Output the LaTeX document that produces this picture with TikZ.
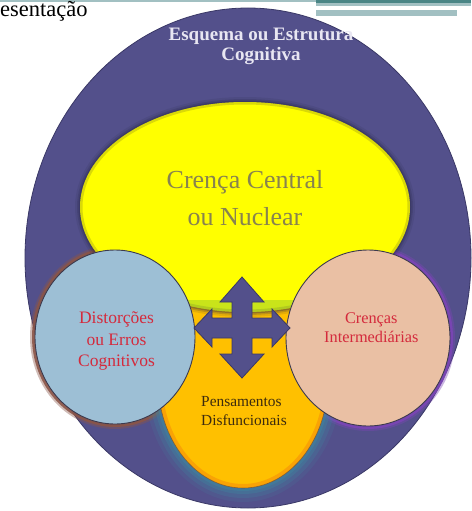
\documentclass[tikz,border=0pt]{standalone}
\usepackage{fontspec}
\setmainfont{Liberation Serif}
\usetikzlibrary{shapes.geometric}
\definecolor{bigc}{HTML}{53508B}
\definecolor{bigedge}{HTML}{3A3866}
\definecolor{yel}{HTML}{FFFF00}
\definecolor{orng}{HTML}{FFC000}
\definecolor{lblue}{HTML}{9DBFD5}
\definecolor{peach}{HTML}{EAC0A4}
\definecolor{circedge}{HTML}{3C3A4E}
\definecolor{brownglow}{HTML}{8A5548}
\definecolor{purpglow}{HTML}{7B45B5}
\definecolor{tealglow}{HTML}{3F86A0}
\definecolor{redtxt}{HTML}{D42A3C}
\definecolor{olivetxt}{HTML}{88834F}
\definecolor{esqtxt}{HTML}{E8E6F2}
\definecolor{pentxt}{HTML}{3D2B0E}
\definecolor{tealdark}{HTML}{4A8585}
\definecolor{teallight}{HTML}{A2C0C2}
\tikzset{
  blob/.style={ellipse, inner sep=0pt, outer sep=0pt},
  sidecirc/.style={blob, draw=circedge, line width=0.9pt},
  arrowshape/.style={fill=bigc, draw=bigedge, line width=0.8pt, line join=miter},
  lbl/.style={inner sep=0pt, align=center},
}
\begin{document}
\begin{tikzpicture}[x=1pt,y=-1pt]
\useasboundingbox (0,0) rectangle (471,511);
% header
\fill[teallight] (0,0) rectangle (471,2);
\fill[tealdark] (316,0) rectangle (471,3.5);
\fill[teallight] (316,3.5) rectangle (471,6.5);
\fill[teallight] (316,10) rectangle (457,16);
\node[inner sep=0pt, anchor=base west, font=\fontsize{22.5}{26}\selectfont] (title) at (0,16.5) {esentação};
% outer schema
\node[blob, draw=bigedge, line width=0.8pt, fill=bigc, minimum width=446pt, minimum height=500pt] (schema) at (248,258) {};
% glows of side circles
\fill[brownglow, opacity=0.4] (115,337) ellipse [x radius=85, y radius=92];
\fill[brownglow, opacity=0.9] (115,337) ellipse [x radius=83, y radius=90];
\fill[purpglow, opacity=0.4] (368,338) ellipse [x radius=87, y radius=93];
\fill[purpglow, opacity=0.9] (368,338) ellipse [x radius=85, y radius=91];
% orange glow
\foreach \d/\o in {14/0.15,10/0.25,6/0.35,3/0.45}
  \fill[tealglow, opacity=\o] (243,380) ellipse [x radius=85+\d, y radius=108+\d];
% orange
\node[blob, fill=orng, draw=pentxt!80, line width=0.6pt, minimum width=170pt, minimum height=216pt] (pens) at (243,380) {};
\begin{scope}
  \clip (243,380) ellipse [x radius=85, y radius=108];
  \draw[orange!80!brown, opacity=0.45, line width=8pt] (243,380) ellipse [x radius=85, y radius=108];
\end{scope}
% yellow shadow
\foreach \d/\o in {5/0.12,3/0.2,1.5/0.3}
  \fill[bigedge!70!black, opacity=\o] (245,207) ellipse [x radius=165+\d, y radius=105+\d];
% yellow
\node[blob, fill=yel, minimum width=330pt, minimum height=210pt] (central) at (245,207) {};
\begin{scope}
  \clip (245,207) ellipse [x radius=165, y radius=105];
  \draw[olive!70!black, opacity=0.25, line width=5pt] (245,207) ellipse [x radius=165, y radius=105];
  \fill[teal!60!yellow, opacity=0.35] (150,300) rectangle (340,315);
\end{scope}
% side circles
\node[sidecirc, fill=lblue, minimum width=160pt, minimum height=174pt] (dist) at (115,337) {};
\node[sidecirc, fill=peach, minimum width=164pt, minimum height=176pt] (inter) at (368,338) {};
% four-way arrow
\coordinate (hub) at (242,328);
\draw[arrowshape, shift={(hub)}]
  (0,-51) -- (22,-26) -- (10,-26) -- (10,-10) -- (30,-10) -- (30,-19) -- (48,0)
  -- (30,19) -- (30,10) -- (10,10) -- (10,26) -- (22,26) -- (0,50)
  -- (-22,26) -- (-10,26) -- (-10,10) -- (-30,10) -- (-30,19) -- (-48,0)
  -- (-30,-19) -- (-30,-10) -- (-10,-10) -- (-10,-26) -- (-22,-26) -- cycle;
% labels
\node[lbl, text=esqtxt, font=\fontsize{19}{20}\selectfont\bfseries] (esqlbl) at (261,46) {Esquema ou Estrutura\\Cognitiva};
\node[lbl, text=olivetxt, font=\fontsize{26}{36.7}\selectfont] (centlbl) at (245,198) {Crença Central\\ou Nuclear};
\node[lbl, text=redtxt, font=\fontsize{17.5}{21.7}\selectfont] (distlbl) at (116.5,341) {Distorções\\ou Erros\\Cognitivos};
\node[lbl, text=redtxt, font=\fontsize{16.3}{19}\selectfont] (interlbl) at (371.3,328) {Crenças\\Intermediárias};
\node[lbl, align=left, anchor=west, text=pentxt, font=\fontsize{15.4}{19}\selectfont] (penslbl) at (201,411) {Pensamentos\\Disfuncionais};
\end{tikzpicture}
\end{document}
